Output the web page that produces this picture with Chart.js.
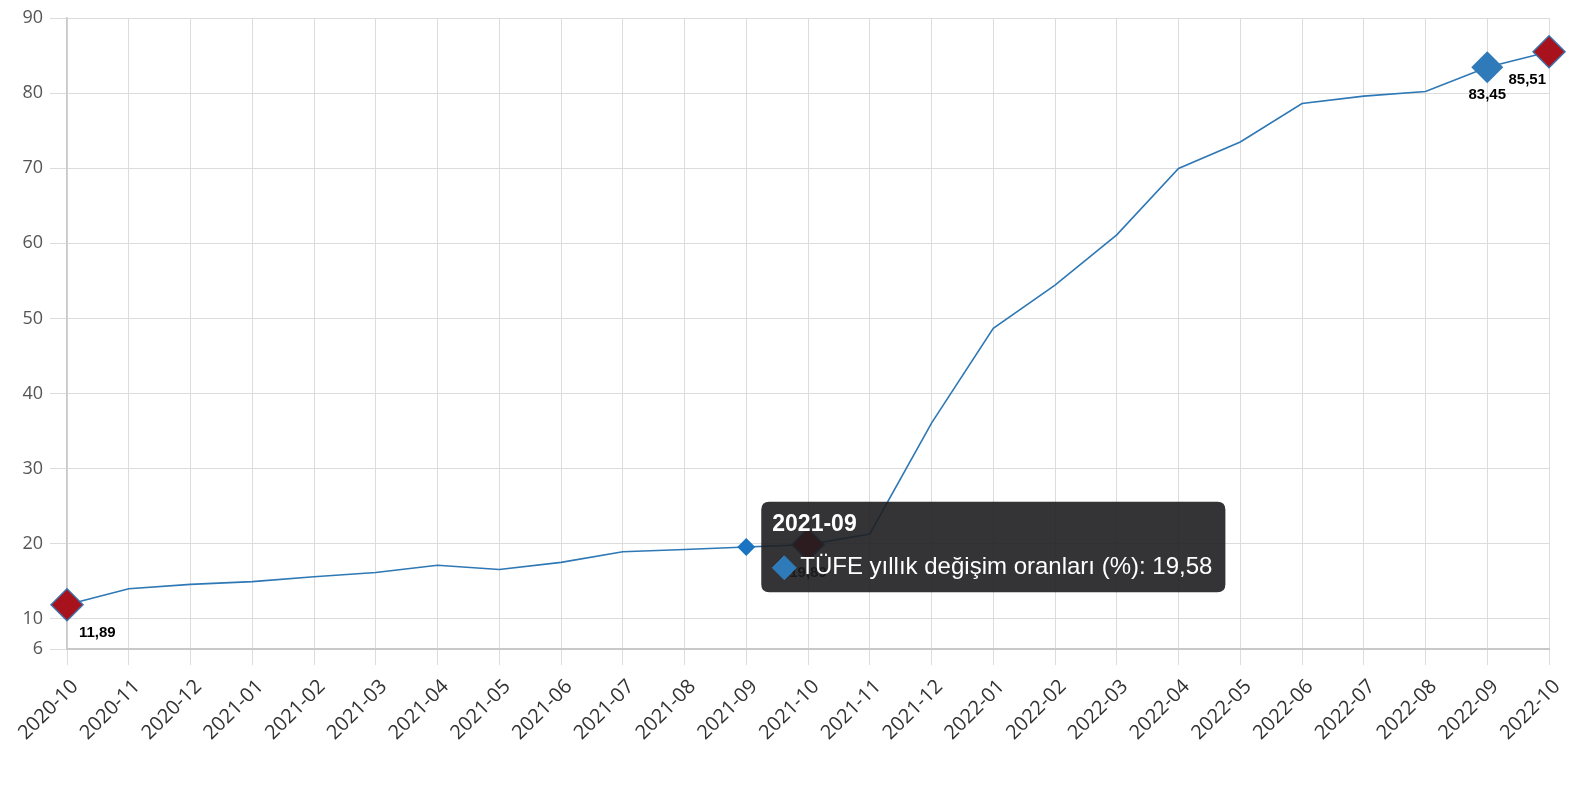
<!DOCTYPE html>
<html>
<head>
<meta charset="utf-8">
<script src="https://cdn.jsdelivr.net/npm/chart.js@4"></script>
<style>
  html, body { margin:0; padding:0; background:#fff; }
  #wrap { width:1576px; height:800px; }
</style>
</head>
<body>
<div id="wrap"><canvas id="c" width="1576" height="800"></canvas></div>
<script>
// months on the x axis
const months = ['2020-10','2020-11','2020-12','2021-01','2021-02','2021-03','2021-04','2021-05','2021-06',
  '2021-07','2021-08','2021-09','2021-10','2021-11','2021-12','2022-01','2022-02','2022-03','2022-04',
  '2022-05','2022-06','2022-07','2022-08','2022-09','2022-10'];
// annual CPI change (%)
const tufe = [11.89,14.03,14.60,14.97,15.61,16.19,17.14,16.59,17.53,18.95,19.25,19.58,19.89,21.31,
  36.08,48.69,54.44,61.14,69.97,73.50,78.62,79.60,80.21,83.45,85.51];
const seriesName = 'TÜFE yıllık değişim oranları (%)';
const yTicks = [6,10,20,30,40,50,60,70,80,90];
const redMarks = ['2020-10','2021-10','2022-10'];
const blueMarks = ['2022-09'];
const hoverMonth = '2021-09';

const fmt = v => v.toFixed(2).replace('.', ',');
const isMark = m => redMarks.includes(m) || blueMarks.includes(m);

const radius = months.map(m => isMark(m) ? 16 : (m === hoverMonth ? 9 : 0));
const fill = months.map(m => redMarks.includes(m) ? '#a8121c' : (blueMarks.includes(m) ? '#2f7ab8' : (m === hoverMonth ? '#1a74c1' : '#2e78b5')));
const stroke = months.map((m, i) => redMarks.includes(m) ? '#3f72ab' : fill[i]);
const bw = months.map(m => redMarks.includes(m) ? 1.5 : 0);

const markLabels = {
  id:'markLabels',
  afterDatasetsDraw(chart){
    const ctx = chart.ctx, meta = chart.getDatasetMeta(0);
    ctx.save();
    ctx.font = 'bold 15px "Liberation Sans", Arial, sans-serif';
    ctx.fillStyle = '#000';
    ctx.textBaseline = 'middle';
    months.forEach((m, i) => {
      if(!isMark(m)) return;
      const p = meta.data[i];
      let x = p.x;
      if(i === 0){ ctx.textAlign = 'left'; x += 12; }
      else if(i === months.length-1){ ctx.textAlign = 'right'; x -= 3; }
      else ctx.textAlign = 'center';
      ctx.fillText(fmt(tufe[i]), x, p.y + 28);
    });
    ctx.restore();
  }
};

Chart.Tooltip.positioners.pointRight = (items) => {
  if(!items.length) return false;
  const el = items[0].element;
  return { x: el.x, y: el.y, xAlign:'left', yAlign:'center' };
};

const chart = new Chart(document.getElementById('c'), {
  type:'line',
  data:{ labels:months, datasets:[{
    label:seriesName, data:tufe,
    borderColor:'#2e78b5', borderWidth:1.6, tension:0, fill:false,
    pointStyle:'rectRot', pointRadius:radius, pointHoverRadius:radius,
    pointBackgroundColor:fill, pointBorderColor:stroke, pointBorderWidth:bw,
    pointHitRadius:0
  }]},
  options:{
    responsive:false, animation:false,
    events:[],
    layout:{ padding:{ left:0, right:25, top:18, bottom:0 } },
    plugins:{
      legend:{ display:false },
      tooltip:{
        enabled:true, position:'pointRight',
        backgroundColor:'rgba(30,30,32,0.9)', cornerRadius:8,
        caretSize:0, caretPadding:15,
        padding:{ top:9, bottom:10, left:11, right:13 },
        titleFont:{ family:'"Liberation Sans", Arial, sans-serif', size:23, weight:'bold' },
        titleMarginBottom:15,
        bodyFont:{ family:'"Liberation Sans", Arial, sans-serif', size:24 },
        titleColor:'#fff', bodyColor:'#fff',
        displayColors:true, usePointStyle:true, boxWidth:24, boxHeight:24, boxPadding:2,
        multiKeyBackground:'rgba(0,0,0,0)',
        callbacks:{
          label: c => `${c.dataset.label}: ${fmt(c.parsed.y)}`,
          labelColor: () => ({ borderColor:'#2f7ab8', backgroundColor:'#2f7ab8' }),
          labelPointStyle: () => ({ pointStyle:'rectRot', rotation:0 })
        }
      }
    },
    scales:{
      x:{
        offset:false,
        grid:{ color:'#dcdcdc', lineWidth:1, tickLength:16, drawTicks:true },
        border:{ color:'#c8c8c8', width:2 },
        ticks:{ color:'#333', font:{ family:'"Open Sans", sans-serif', size:20 }, maxRotation:45, minRotation:45,
          autoSkip:false, padding:10, labelOffset:8 },
        afterFit: s => { s.height = 151; }
      },
      y:{
        min:6, max:90,
        afterBuildTicks: s => { s.ticks = yTicks.map(v => ({ value:v })); },
        grid:{ color:'#dcdcdc', lineWidth:1, tickLength:17 },
        border:{ color:'#c8c8c8', width:1.5 },
        ticks:{ color:'#555', font:{ family:'"Open Sans", sans-serif', size:18 }, padding:7 },
        afterFit: s => { s.width = 67; }
      }
    }
  },
  plugins:[markLabels]
});

const hi = months.indexOf(hoverMonth);
const el = chart.getDatasetMeta(0).data[hi];
chart.tooltip.setActiveElements([{ datasetIndex:0, index:hi }], { x:el.x, y:el.y });
chart.update();
</script>
</body>
</html>
